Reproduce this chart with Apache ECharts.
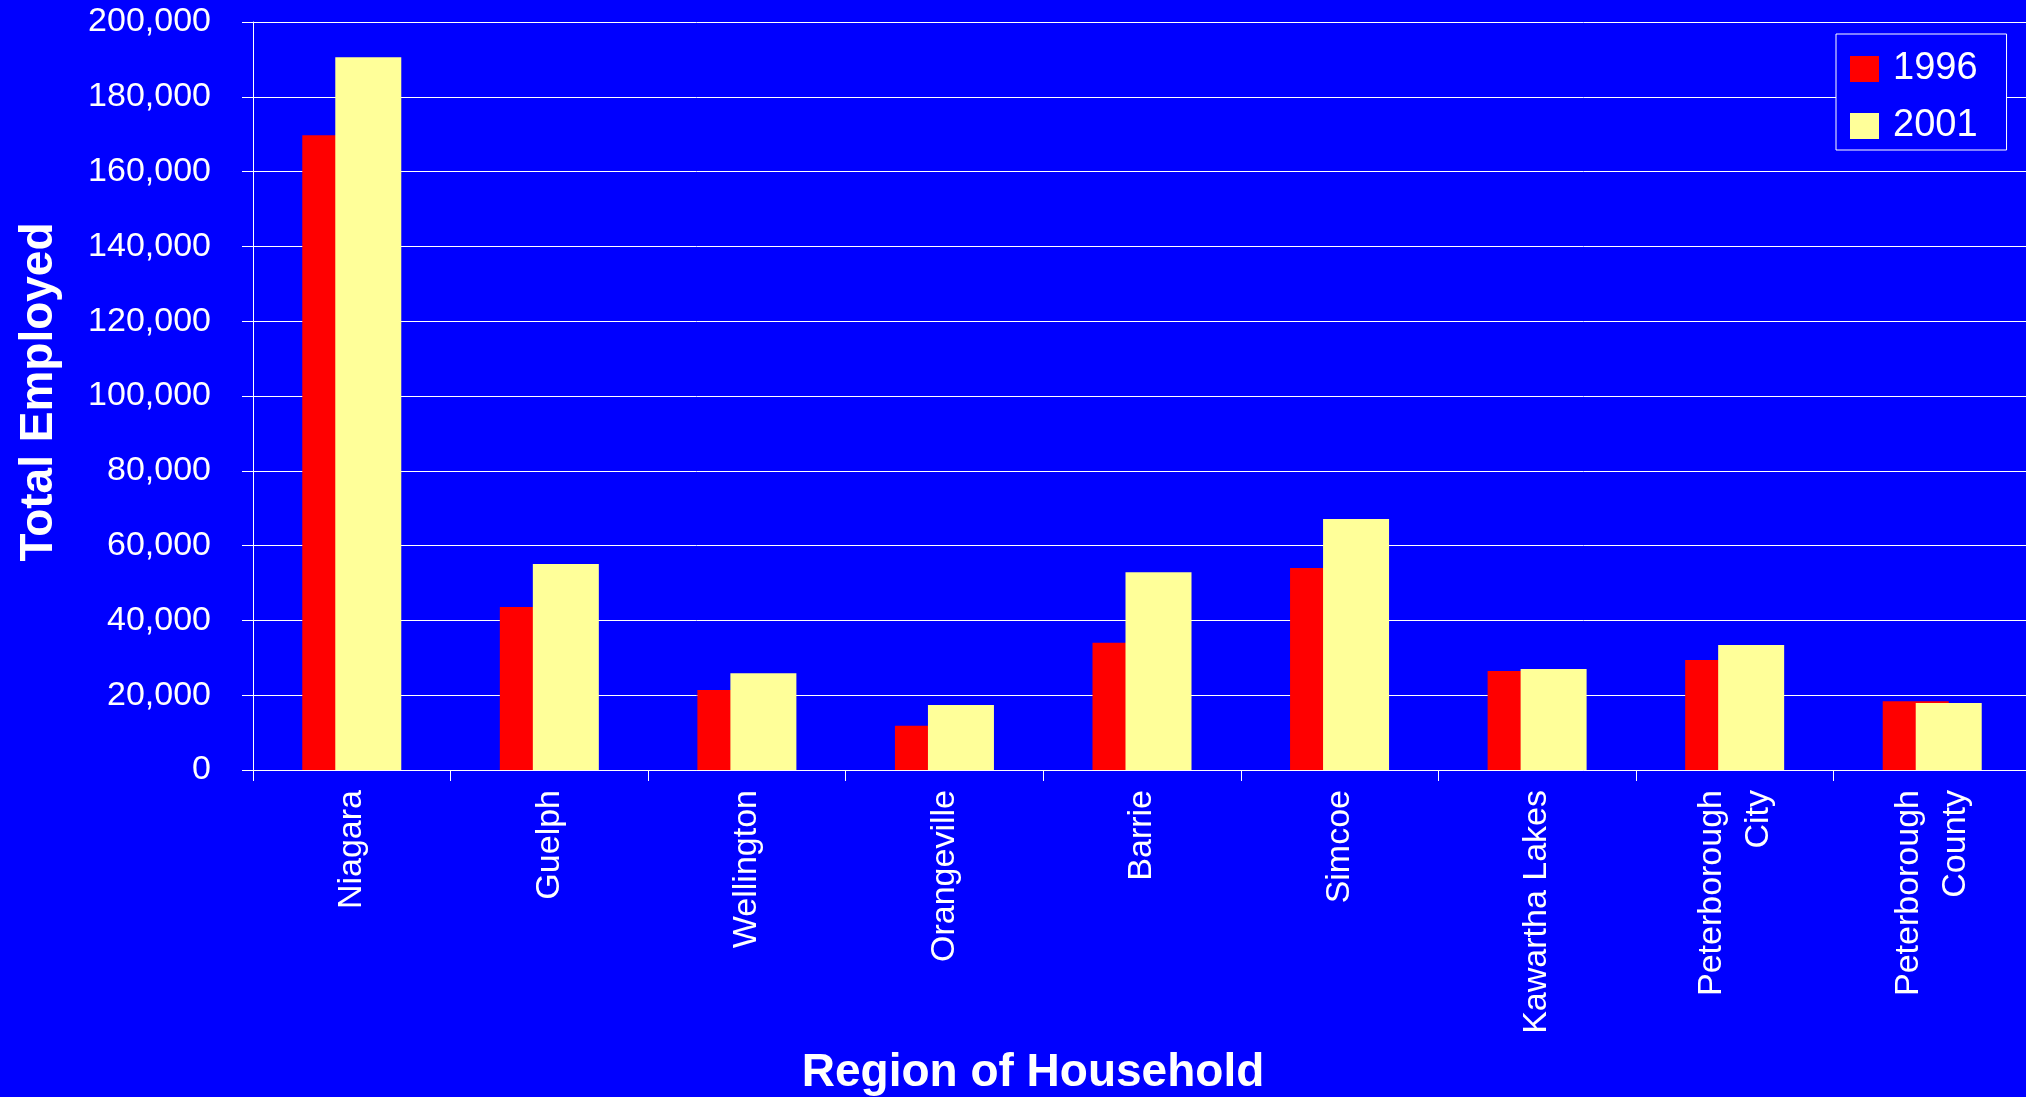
<!DOCTYPE html>
<html>
<head>
<meta charset="utf-8">
<script src="https://cdn.jsdelivr.net/npm/echarts@6/dist/echarts.min.js"></script>
<style>
html,body{margin:0;padding:0;background:#0000FF;}
#chart{width:2026px;height:1097px;}
</style>
</head>
<body>
<div id="chart"></div>
<script>
const categories = ['Niagara', 'Guelph', 'Wellington', 'Orangeville', 'Barrie', 'Simcoe', 'Kawartha Lakes', 'Peterborough\nCity', 'Peterborough\nCounty'];
const seriesNames = ['1996', '2001'];
const values1996 = [169700, 43600, 21400, 11800, 34000, 54000, 26500, 29400, 18400];
const values2001 = [190600, 55100, 25900, 17400, 52900, 67100, 27000, 33400, 17900];
const yMin = 0, yMax = 200000, yInterval = 20000;
const yTitle = 'Total Employed';
const xTitle = 'Region of Household';

const FONT = '"Liberation Sans", Arial, sans-serif';
const chart = echarts.init(document.getElementById('chart'));
chart.setOption({
  backgroundColor: '#0000FF',
  animation: false,
  textStyle: { fontFamily: FONT },
  grid: { left: 253, width: 1778, top: 22, height: 748, containLabel: false, outerBoundsMode: 'none' },
  legend: {
    orient: 'vertical',
    left: 1836, top: 34,
    data: seriesNames,
    icon: 'rect',
    itemWidth: 29, itemHeight: 26,
    itemGap: 17,
    itemStyle: { borderWidth: 0 },
    padding: [15, 29, 4, 14],
    borderColor: '#FFFFFF', borderWidth: 1,
    backgroundColor: '#0000FF',
    textStyle: { color: '#FFFFFF', fontSize: 38, fontFamily: FONT, lineHeight: 40, padding: [0, 0, 0, 9] }
  },
  xAxis: {
    type: 'category',
    data: categories,
    axisLine: { show: true, lineStyle: { color: '#FFFFFF', width: 1 } },
    axisTick: { show: true, length: 11, lineStyle: { color: '#FFFFFF' } },
    axisLabel: { rotate: 90, color: '#FFFFFF', fontSize: 34, fontFamily: FONT, margin: 20, lineHeight: 47, interval: 0 },
    splitLine: { show: false }
  },
  yAxis: {
    type: 'value',
    min: yMin, max: yMax, interval: yInterval,
    axisLine: { show: true, lineStyle: { color: '#FFFFFF', width: 1 } },
    axisTick: { show: true, length: 11, lineStyle: { color: '#FFFFFF' } },
    axisLabel: { color: '#FFFFFF', fontSize: 34, fontFamily: FONT, margin: 42,
      formatter: v => v.toLocaleString('en-US') },
    splitLine: { show: true, lineStyle: { color: '#FFFFFF', width: 1 } }
  },
  series: [
    { name: seriesNames[0], type: 'bar', data: values1996, barWidth: 66, barGap: '-50%',
      itemStyle: { color: '#FF0000' } },
    { name: seriesNames[1], type: 'bar', data: values2001, barWidth: 66, barGap: '-50%',
      itemStyle: { color: '#FFFF99' } }
  ],
  graphic: [
    { type: 'text', x: 39, y: 392, rotation: Math.PI / 2,
      style: { text: yTitle, fill: '#FFFFFF', font: 'bold 46px ' + FONT, align: 'center', verticalAlign: 'middle' } },
    { type: 'text', x: 1033, y: 1073,
      style: { text: xTitle, fill: '#FFFFFF', font: 'bold 46px ' + FONT, align: 'center', verticalAlign: 'middle' } }
  ]
});
</script>
</body>
</html>
